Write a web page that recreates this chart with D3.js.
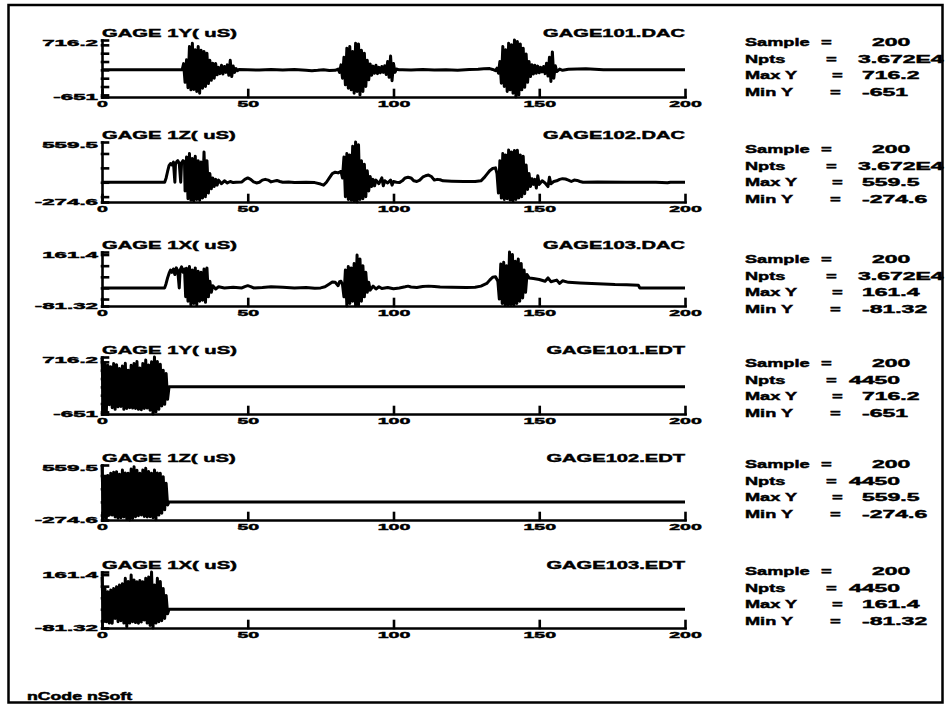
<!DOCTYPE html>
<html>
<head>
<meta charset="utf-8">
<script src="https://cdn.jsdelivr.net/npm/d3@7"></script>
<style>
  html, body { margin: 0; padding: 0; background: #fff; }
  svg { display: block; }
  text { font-family: "Liberation Sans", Arial, sans-serif; font-weight: bold; fill: #000; stroke: #000; stroke-width: 0.45; }
</style>
</head>
<body>
<svg id="chart" width="948" height="706"></svg>
<script>
// ---- channel descriptions ----
const channels = ["GAGE 1Y( uS)", "GAGE 1Z( uS)", "GAGE 1X( uS)", "GAGE 1Y( uS)", "GAGE 1Z( uS)", "GAGE 1X( uS)"];
const files = ["GAGE101.DAC", "GAGE102.DAC", "GAGE103.DAC", "GAGE101.EDT", "GAGE102.EDT", "GAGE103.EDT"];
const maxY = [716.2, 559.5, 161.4, 716.2, 559.5, 161.4];
const minY = [-651, -274.6, -81.32, -651, -274.6, -81.32];
const sampleRate = [200, 200, 200, 200, 200, 200];
const npts = ["3.672E4", "3.672E4", "3.672E4", "4450", "4450", "4450"];
const xTicks = [0, 50, 100, 150, 200];
const xDomain = [0, 200];
const footer = "nCode nSoft";

// ---- time histories: [time, value] ----
const gage101Dac = [
  [0,0],[27.5,0],[28,150],[28.5,-300],[29,240],[29.5,-430],[30,560],[30.5,-480],[31,640],[31.5,-470],
  [32,480],[32.5,-520],[33,560],[33.5,-560],[34,470],[34.5,-440],[35,440],[35.5,-400],[36,400],[36.5,-330],
  [37,230],[37.5,-250],[38,160],[38.5,-200],[39,150],[39.5,-120],[40,60],[40.5,-90],[41,110],[41.5,-100],
  [42,80],[42.5,-60],[43,120],[43.5,-130],[44,230],[44.5,-160],[45,90],[45.5,-60],[46,30],[46.5,-20],[47,10],
  [50,5],[54,-6],[58,8],[62,-5],[66,6],[70,-8],[72,-20],[74,-10],[76,5],[78,-15],[80,-10],
  [81,20],[81.5,-60],[82,120],[82.5,-200],[83,300],[83.5,-360],[84,520],[84.5,-440],[85,560],[85.5,-480],
  [86,440],[86.5,-560],[87,640],[87.5,-520],[88,620],[88.5,-600],[89,470],[89.5,-520],[90,400],[90.5,-400],
  [91,230],[91.5,-240],[92,140],[92.5,-130],[93,90],[93.5,-80],[94,110],[94.5,-90],[95,60],[95.5,-70],
  [96,80],[96.5,-60],[97,100],[97.5,-110],[98,200],[98.5,-180],[99,330],[99.5,-260],[100,150],[100.5,-60],
  [101,20],[102,0],[103,5],[106,-5],[110,8],[114,-6],[118,5],[122,-8],[126,10],[129,15],[131,25],[133,30],
  [134,10],[135,-20],[135.5,40],[136,-80],[136.5,200],[137,-320],[137.5,560],[138,-400],[138.5,480],[139,-520],
  [139.5,640],[140,-480],[140.5,600],[141,-560],[141.5,716.2],[142,-651],[142.5,680],[143,-600],[143.5,620],[144,-480],
  [144.5,520],[145,-420],[145.5,380],[146,-300],[146.5,200],[147,-160],[147.5,120],[148,-100],[148.5,110],[149,-80],
  [149.5,90],[150,-70],[150.5,60],[151,-50],[151.5,80],[152,-90],[152.5,160],[153,-150],[153.5,300],[154,-280],
  [154.5,430],[155,-200],[155.5,100],[156,-40],[157,20],[158,-10],[160,15],[163,20],[166,25],[169,15],[172,5],
  [175,0],[200,0]
];

const gage102Dac = [
  [0,0],[21.5,0],[22,60],[22.5,150],[23,230],[23.5,260],[24,240],[24.5,280],[25,0],[25.2,250],[25.7,290],
  [26,300],[26.5,260],[27,0],[27.3,270],[27.8,300],[28.3,280],
  [28.5,-120],[29,350],[29.5,-230],[30,400],[30.5,-250],[31,330],[31.5,-260],[32,360],[32.5,-240],[33,300],
  [33.5,-250],[34,280],[34.5,-220],[35,420],[35.5,-200],[36,300],[36.5,-150],[37,120],[37.5,-90],[38,60],
  [38.5,-60],[39,40],[39.5,-40],[40,30],[41,-20],[42,20],[43,-10],[44,10],[45,-5],[46,0],[48,5],[49,40],
  [50,60],[51,40],[52,5],[53,-10],[54,0],[55,30],[56,40],[57,30],[58,5],[59,15],[60,25],[61,10],[62,0],
  [64,5],[66,-5],[70,0],[73,-5],[75,-25],[76,-40],[77,0],[78,60],[79,120],[80,140],[81,130],[82,150],[82.5,60],
  [83,350],[83.5,-200],[84,400],[84.5,-240],[85,380],[85.5,-250],[86,500],[86.5,-260],[87,559.5],[87.5,-274.6],
  [88,520],[88.5,-240],[89,300],[89.5,-230],[90,250],[90.5,-200],[91,160],[91.5,-120],[92,80],[92.5,-60],
  [93,40],[93.5,-50],[94,30],[95,-20],[96,60],[96.5,-50],[97,20],[98,-10],[99,30],[99.5,-40],[100,10],[101,0],
  [102,-5],[103,20],[104,60],[105,70],[106,60],[107,20],[108,10],[109,30],[110,70],[111,90],[112,100],[113,80],
  [114,30],[115,40],[116,35],[117,20],[120,15],[124,10],[128,10],[130,20],[131,60],[132,110],[133,160],[134,190],
  [135,200],[135.5,120],
  [136,-150],[136.5,300],[137,-220],[137.5,400],[138,-240],[138.5,380],[139,-230],[139.5,448],[140,-248],[140.5,420],
  [141,-260],[141.5,440],[142,-240],[142.5,445],[143,-220],[143.5,380],[144,-200],[144.5,360],[145,-160],[145.5,240],
  [146,-100],[146.5,120],[147,-60],[147.5,50],[148,-30],[148.5,40],[149,-80],[149.5,90],[150,-30],[151,20],
  [152,-10],[153,-60],[153.5,70],[154,-20],[155,10],[156,20],[157,40],[158,50],[159,45],[160,30],[161,10],
  [162,30],[163,25],[164,10],[165,0],[170,5],[180,0],[190,0],[194,-8],[195,0],[200,0]
];

const gage103Dac = [
  [0,0],[21.5,0],[22,20],[22.5,45],[23,65],[23.5,80],[24,70],[24.5,85],[25,60],[25.5,90],[26,75],[26.5,0],
  [26.8,80],[27.3,95],[27.8,70],[28.3,85],
  [28.7,-40],[29,88],[29.5,-60],[30,96],[30.5,-77],[31,80],[31.5,-70],[32,90],[32.5,-77],[33,75],[33.5,-60],
  [34,70],[34.5,-55],[35,85],[35.5,-65],[36,90],[36.5,-40],[37,30],[37.5,-20],[38,10],[39,-5],[40,5],[42,0],
  [45,3],[48,0],[49,6],[50,10],[51,6],[52,0],[55,2],[58,5],[62,3],[66,0],[70,2],[73,-2],[75,0],[76.5,5],
  [78,18],[79,27],[80,25],[81,10],[81.5,28],[82,30],[82.5,15],[83,-40],
  [83.5,80],[84,-81.32],[84.5,96],[85,-70],[85.5,90],[86,-60],[86.5,110],[87,-80],[87.5,148],[88,-78],
  [88.5,130],[89,-60],[89.5,100],[90,-40],[90.5,70],[91,-20],[91.5,25],[92,-10],[93,8],[94,-5],[95,5],
  [96,-3],[98,2],[100,-4],[102,0],[104,5],[105,8],[106,4],[108,2],[110,6],[112,8],[114,6],[116,4],[120,3],
  [125,2],[128,3],[130,8],[132,20],[133,35],[134,48],[135,50],[135.8,30],
  [136.3,-50],[136.8,107],[137.3,-70],[137.8,115],[138.3,-77],[138.8,100],[139.3,-78],[139.8,161.4],[140.3,-75],
  [140.8,150],[141.3,-77],[141.8,120],[142.3,-70],[142.8,130],[143.3,-60],[143.8,110],[144.3,-45],[144.8,80],
  [145.3,-20],[145.8,60],[146.5,45],[148,42],[150,38],[152,30],[153,45],[154,28],[156,35],[157,20],[158,32],
  [160,25],[164,22],[168,20],[172,18],[176,15],[180,14],[184,12],[184.5,0],[200,0]
];

const gage101Edt = [
  [0,700],[0.5,-600],[1,560],[1.5,-580],[2,520],[2.5,-430],[3,480],[3.5,-500],[4,560],[4.5,-540],
  [5,530],[5.5,-480],[6,440],[6.5,-470],[7,500],[7.5,-540],[8,566],[8.5,-520],[9,400],[9.5,-500],
  [10,520],[10.5,-510],[11,560],[11.5,-520],[12,606],[12.5,-540],[13,450],[13.5,-550],[14,560],[14.5,-520],
  [15,646],[15.5,-510],[16,526],[16.5,-560],[17,600],[17.5,-651],[18,716.2],[18.5,-600],[19,606],[19.5,-540],
  [20,540],[20.5,-460],[21,400],[21.5,-420],[22,320],[22.5,-300],[23,0],[200,0]
];

const gage102Edt = [
  [0,559.5],[0.5,-250],[1,380],[1.5,-249],[2,400],[2.5,-200],[3,434],[3.5,-200],[4,450],[4.5,-230],
  [5,459],[5.5,-249],[6,420],[6.5,-240],[7,484],[7.5,-230],[8,440],[8.5,-260],[9,433],[9.5,-274.6],
  [10,500],[10.5,-250],[11,534],[11.5,-224],[12,480],[12.5,-210],[13,433],[13.5,-198],[14,484],[14.5,-220],
  [15,509],[15.5,-230],[16,460],[16.5,-224],[17,433],[17.5,-240],[18,484],[18.5,-270],[19,440],[19.5,-200],
  [20,433],[20.5,-173],[21,383],[21.5,-120],[22,282],[22.5,-47],[23,0],[200,0]
];

const gage103Edt = [
  [0,141],[0.5,-54],[1,90],[1.5,-54],[2,76],[2.5,-60],[3,83],[3.5,-61],[4,90],[4.5,-40],
  [5,98],[5.5,-54],[6,105],[6.5,-50],[7,110],[7.5,-60],[8,134],[8.5,-76],[9,120],[9.5,-60],
  [10,148],[10.5,-54],[11,127],[11.5,-58],[12,119],[12.5,-61],[13,125],[13.5,-55],[14,119],[14.5,-47],
  [15,134],[15.5,-60],[16,140],[16.5,-70],[17,161.4],[17.5,-81.32],[18,105],[18.5,-60],[19,134],[19.5,-54],
  [20,120],[20.5,-50],[21,90],[21.5,-40],[22,60],[22.5,-20],[23,0],[200,0]
];

const traces = [gage101Dac, gage102Dac, gage103Dac, gage101Edt, gage102Edt, gage103Edt];

// ---- page layout ----
const W = 948, H = 706;
const plotLeft = 102, plotRight = 685;
const panelTop = [40, 142, 252, 357, 465, 572];
const panelBottom = [97, 202, 306, 414, 520, 628];
const statBase = [46, 153, 263, 367, 468, 575];
const statStep = 16.7;
const ink = "#000";

const svg = d3.select("#chart");
svg.append("rect").attr("width", W).attr("height", H).attr("fill", "#fff");
svg.append("rect")
  .attr("x", 8.5).attr("y", 5).attr("width", 934).attr("height", 697.5)
  .attr("fill", "none").attr("stroke", ink).attr("stroke-width", 2.5);

// text drawn horizontally stretched, like the plotter's wide lettering
function wideText(g, str, x, y, size, sx, anchor) {
  return g.append("text")
    .attr("transform", `translate(${x},${y}) scale(${sx},1)`)
    .attr("font-size", size)
    .attr("text-anchor", anchor || "start")
    .text(str);
}

const statRows = [
  { label: "Sample", eqX: 821, valX: 872 },
  { label: "Npts",   eqX: 826, valX: 858 },
  { label: "Max Y",  eqX: 832, valX: 862 },
  { label: "Min Y",  eqX: 830, valX: 862 }
];

traces.forEach((data, i) => {
  const top = panelTop[i], bottom = panelBottom[i];
  const x = d3.scaleLinear().domain(xDomain).range([plotLeft, plotRight]);
  const y = d3.scaleLinear().domain([minY[i], maxY[i]]).range([bottom, top]);
  const g = svg.append("g");

  // signal trace
  g.append("path")
    .datum(data)
    .attr("d", d3.line().x(d => x(d[0])).y(d => y(d[1])))
    .attr("fill", "none")
    .attr("stroke", ink)
    .attr("stroke-width", 3)
    .attr("stroke-linejoin", "round");

  // time axis
  const xa = g.append("g")
    .attr("transform", `translate(0,${bottom})`)
    .call(d3.axisBottom(x).tickValues(xTicks).tickSizeInner(-7).tickSizeOuter(0).tickPadding(3));

  // amplitude axis: ticks at round values, labels at the extremes only
  const yTicks = [minY[i], ...y.ticks(5), maxY[i]];
  const ya = g.append("g")
    .attr("transform", `translate(${plotLeft},0)`)
    .call(d3.axisLeft(y).tickValues(yTicks).tickSizeInner(-6).tickSizeOuter(0)
      .tickFormat(v => (v === minY[i] || v === maxY[i]) ? String(v) : ""));

  [xa, ya].forEach(a => {
    a.attr("font-family", null).attr("font-size", null);
    a.selectAll("path, line").attr("stroke", ink).attr("stroke-width", 2.6).attr("stroke-linecap", "square");
  });
  xa.selectAll("text")
    .attr("font-size", 9.3)
    .attr("fill", ink)
    .attr("y", 3.5)
    .attr("transform", "scale(2.1,1)");
  ya.selectAll("text")
    .attr("font-size", 9.3)
    .attr("fill", ink)
    .attr("x", -4 / 2.4)
    .attr("dy", v => v === maxY[i] ? "0.62em" : "0.25em")
    .attr("transform", "scale(2.4,1)");

  // headings
  wideText(g, channels[i], plotLeft, top - 3, 11.5, 1.76, "start");
  wideText(g, files[i], plotRight, top - 3, 11.5, 1.75, "end");

  // statistics block
  const vals = [String(sampleRate[i]), npts[i], String(maxY[i]), String(minY[i])];
  statRows.forEach((r, k) => {
    const yy = statBase[i] + statStep * k;
    wideText(g, r.label, 745, yy, 11.5, 1.58, "start");
    wideText(g, "=", r.eqX, yy, 11.5, 1.6, "start");
    const vx = (k === 1 && npts[i].length < 5) ? 849 : r.valX;
    wideText(g, vals[k], vx, yy, 11.5, 2.0, "start");
  });
});

wideText(svg, footer, 27, 700, 10, 1.77, "start");
</script>
</body>
</html>
